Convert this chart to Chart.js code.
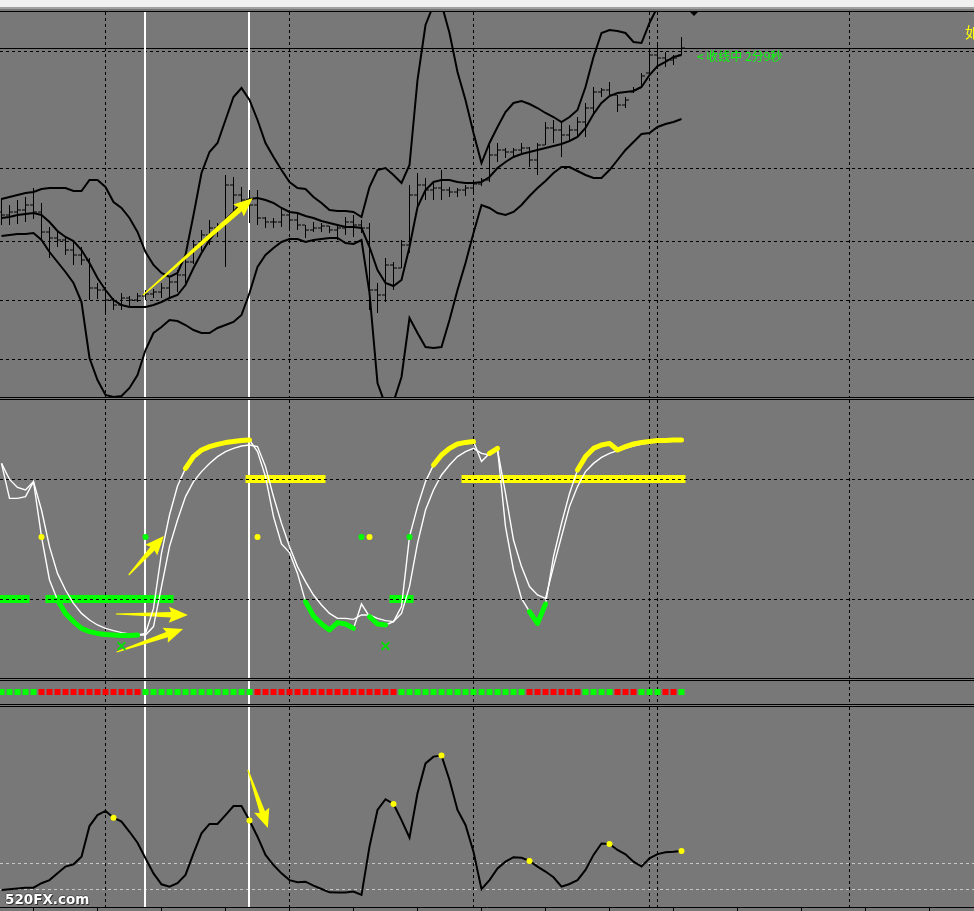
<!DOCTYPE html>
<html><head><meta charset="utf-8">
<script src="https://cdn.jsdelivr.net/npm/chart.js@4.4.1/dist/chart.umd.min.js"></script>
<style>
html,body{margin:0;padding:0;background:#787878;overflow:hidden;}
#wrap{position:relative;width:974px;height:911px;background:#787878;overflow:hidden;}
canvas{position:absolute;left:0;}
.hl{position:absolute;left:0;width:974px;height:1px;background:#000;z-index:3;}
.txt{position:absolute;white-space:nowrap;z-index:4;}
</style></head><body>
<div id="wrap">
  <div style="position:absolute;left:0;top:0;width:974px;height:7px;background:#f0f0f0"></div>
  <div style="position:absolute;left:0;top:7px;width:974px;height:2px;background:#a0a0a0"></div>
  <div class="hl" style="top:11px"></div>
  <canvas id="c1" width="974" height="385" style="top:12px"></canvas>
  <div class="hl" style="top:397px"></div>
  <div class="hl" style="top:399px"></div>
  <canvas id="c2" width="974" height="278" style="top:400px"></canvas>
  <div class="hl" style="top:678px"></div>
  <div class="hl" style="top:680px"></div>
  <canvas id="c3" width="974" height="23" style="top:681px"></canvas>
  <div class="hl" style="top:704px"></div>
  <div class="hl" style="top:706px"></div>
  <canvas id="c4" width="974" height="204" style="top:707px"></canvas>
  <div style="position:absolute;left:690px;top:12px;width:0;height:0;border-left:4px solid transparent;border-right:4px solid transparent;border-top:4px solid #000;z-index:4"></div>
  <div class="txt" style="left:697px;top:49px;font:12px 'Noto Sans CJK SC',sans-serif;color:#00ff00;line-height:14px">&lt; 收线中 2分9秒</div>
  <div class="txt" style="left:965px;top:24px;font:15px 'Noto Sans CJK SC',sans-serif;color:#ffff00;line-height:16px">如</div>
  <div class="txt" style="left:5px;top:892px;font:bold 13.5px 'DejaVu Sans',sans-serif;color:#fff;line-height:15px;text-shadow:1px 1px 0 #333,-1px 0 0 #555,0 -1px 0 #555">520FX.com</div>
</div>
<script>
// ---------- DATA ----------
// Price panel (arbitrary price units)
const open  = [188,185,188,190,195,188,168,162,160,150,145,140,112,110,100,95,102,100,104,106,108,112,118,125,138,155,165,172,175,215,205,200,195,182,178,178,185,180,175,170,172,174,170,172,178,175,172,110,105,135,132,155,205,215,210,212,210,208,210,212,216,220,245,250,248,250,252,240,255,272,270,265,270,278,292,308,310,305,295,308,312,327,345,342,340,345];
const high  = [202,195,200,203,212,197,173,170,163,158,153,142,117,113,102,107,104,107,110,111,117,123,130,143,160,170,180,177,225,223,213,210,210,183,182,192,187,187,175,178,177,174,175,183,185,180,177,117,142,138,160,215,227,222,218,230,213,212,215,220,222,255,257,252,252,257,253,257,278,280,277,275,283,297,313,312,318,305,303,313,327,352,355,348,345,363];
const low   = [175,175,176,178,181,160,142,153,145,135,135,100,101,86,90,90,92,98,100,102,102,102,108,117,136,149,155,163,133,187,193,177,175,172,172,173,170,170,162,168,168,167,160,165,163,167,90,87,98,110,132,147,193,200,200,200,203,203,204,208,214,218,238,242,242,247,233,225,255,257,243,260,263,263,287,303,303,288,292,307,312,327,333,333,335,345];
const close = [185,188,190,195,188,168,162,160,150,145,140,112,110,100,95,102,100,104,106,108,112,118,125,138,155,165,172,175,215,205,200,195,182,178,178,185,180,175,170,172,174,170,172,178,175,172,110,105,135,132,155,205,215,210,212,210,208,210,212,216,220,245,250,248,250,252,240,255,272,270,265,270,278,292,308,310,305,295,300,310,324,345,342,340,342,352];
const bbUpper  = [201,203,205,207,208,211,212,212,212,209,209,220,220,213,198,192,182,168,148,135,127,123,127,145,185,227,248,257,280,303,312,300,280,257,243,230,218,212,211,203,197,190,189,189,188,183,213,230,232,225,217,235,320,375,395,396,367,328,300,267,237,257,273,288,297,299,296,292,287,283,278,283,290,313,343,367,370,369,367,358,357,377,393,405,412,418];
const bbMiddle = [182,183,185,186,187,185,178,169,163,159,150,137,122,110,100,95,93,93,93,95,98,102,105,115,132,147,160,170,180,188,197,201,202,200,197,192,188,187,184,182,179,177,175,173,173,172,153,130,117,114,120,153,193,210,218,220,220,218,217,217,218,223,232,238,243,246,248,250,252,254,256,259,263,272,286,297,304,307,308,309,313,325,334,338,343,345];
const bbLower  = [164,165,166,166,167,160,148,138,128,117,98,42,20,5,3,4,12,25,50,67,73,80,79,75,70,67,67,72,75,78,85,107,133,145,152,158,161,161,158,160,161,162,162,157,156,160,107,17,-5,-2,23,82,67,53,52,53,80,110,137,167,195,192,187,185,188,195,204,212,219,227,233,233,229,225,222,222,230,240,250,258,266,267,273,276,278,281];
const priceGridLevels = [349,232,159,100,41];
const lastPrice = 352;

// Stochastic panel (0-100)
const stochMain   = [87.8,70.3,70.3,71.2,78.7,51.2,29.5,19.5,12.8,8.7,5.3,3.7,2.8,2.3,2,1.8,1.8,2,2.8,15.3,43,62,76.5,85.3,91.2,94.5,96.2,97.3,98.2,98.7,99.2,99.5,93.7,81.2,61.2,47.5,43.2,32.8,18.7,11.5,7.5,4.5,8.2,7.5,5.3,17.5,11.2,7.5,7,8.7,16.2,51.2,66.2,78.7,87,92,95.3,97.5,98.3,98.7,88.7,92.8,95.3,56.2,34.5,20.3,13.7,7.8,17.5,41.2,57.8,72.8,84.5,91.2,95.3,97,97.8,94.5,96.2,97.5,98.3,98.8,99.2,99.3,99.5,99.5];
const stochSignal = [87.8,79.8,75.8,74.5,78.7,64.5,46.2,32.8,24.5,17.8,12.8,9.5,7,5.3,4.2,3.2,2.5,2,2,6.2,26.2,46.2,59.5,71.2,78.7,83.7,87.8,91.2,93.7,95.3,96.5,97,96.2,86.2,71.2,57.8,46.2,36.2,28.7,22,17,12.8,10.3,10.3,9.8,12,12,10.3,9.2,8.7,12.8,26.2,47.8,64.5,74.5,82,87,91.2,93.7,95.3,92.8,92,94.5,72.8,49.5,36.2,26.2,22,20.3,36.2,51.2,66.2,76.2,83.7,87.8,90.8,92.8,94.2,95.3,96.5,97.3,98.2,98.7,99,99.2,99.3];
const oversoldRuns   = [[7,17],[38,44],[46,48],[66,68]];
const overboughtRuns = [[23,31],[54,59],[61,62],[72,85]];
const mark80Runs = [[31,40],[58,85]];
const mark20Runs = [[0,3],[6,21],[49,51]];
const stochLevels = [80,20];
const midDotsYellow = [5,32,46];
const midDotsGreen  = [18,45,51];
const midDotLevel = 51;
const extremeX = [15,48];
const extremeXLevel = -3.5;

// Signal strip (1 = green, -1 = red)
const trendSignal = [1,1,1,1,1,-1,-1,-1,-1,-1,-1,-1,-1,-1,-1,-1,-1,-1,1,1,1,1,1,1,1,1,1,1,1,1,1,1,-1,-1,-1,-1,-1,-1,-1,-1,-1,-1,-1,-1,-1,-1,-1,-1,-1,-1,1,1,1,1,1,1,1,1,1,1,1,1,1,1,1,1,-1,-1,-1,-1,-1,-1,-1,1,1,1,1,-1,-1,-1,1,1,1,-1,-1,1];

// Lower oscillator panel
const lowerOsc = [0,0.3,0.6,0.9,0.9,2.6,3.8,6.4,9,9.9,12.8,24.6,28.8,30.4,27.8,26.3,22.4,18.2,12.2,6.4,2.2,1.3,2.6,5.8,14.1,21.8,25.4,25.4,28.8,32.3,32.3,26.7,20.5,13.5,9.6,6.4,3.8,3,3.2,1.7,0.4,-0.9,-1,-1,-0.6,-1.9,16.7,30.8,34.9,33.1,26.9,20.1,37.2,48.7,51.3,51.7,42.3,30.8,25,14.7,0.3,3.8,8.3,10.9,12.6,12.4,11.2,9,7.1,4.9,1.3,2.3,3.8,7.7,13.5,17.9,17.7,15.4,13.7,10.9,9,12.2,13.8,14.5,14.7,15];
const lowerOscDots = [14,31,49,55,66,76,85];
const lowerLevels = [0,10];

// Time grid / ticks / vertical line objects (bar numbers)
const timeGridBars = [13,36,59,81,82,106];
const timeTickBars = [4,12,20,28,36,44,52,60,68,76,84,92,100,108,116];
const vLineBars = [18,31];

// Annotation arrows [bar, value]
const priceArrows = [{from:[17.7,105], to:[31.4,202]}];
const stochArrows = [{from:[15.9,32], to:[20.3,51.5]}, {from:[14.3,12.5], to:[23.3,12]}, {from:[14.4,-6.5], to:[22.7,5]}];
const lowerArrows = [{from:[30.8,46.2], to:[33.3,23.8]}];

// ---------- BUILD ----------
const bars = close.map((_, i) => i);
const X_MIN = -1.5/8, X_MAX = X_MIN + 974/8;
const pts = arr => arr.map((v, i) => ({x: i, y: v}));
const runPts = (arr, runs) => arr.map((v, i) => ({x: i, y: runs.some(r => i >= r[0] && i <= r[1]) ? v : null}));
const levelPts = (runs, lvl) => { const out = []; runs.forEach(r => { out.push({x: r[0]-0.5, y: lvl}, {x: r[1]+0.5, y: lvl}, {x: r[1]+0.6, y: null}); }); return out; };

function baseOpts(yMin, yMax) {
  return {
    responsive: false, animation: false, devicePixelRatio: 1, events: [],
    layout: {padding: 0, autoPadding: false},
    plugins: {legend: {display: false}, tooltip: {enabled: false}},
    scales: {
      x: {type: 'linear', min: X_MIN, max: X_MAX, display: false, offset: false, grid: {offset: false}},
      y: {type: 'linear', min: yMin, max: yMax, display: false}
    }
  };
}

function drawArrow(ctx, x0, y0, x1, y1) {
  const dx = x1-x0, dy = y1-y0, L = Math.hypot(dx, dy);
  const ux = dx/L, uy = dy/L, nx = -uy, ny = ux;
  const hl = Math.min(17, L*0.4), hw = 8, sw = 2.8, tw = 0.6;
  const bx = x1-ux*hl, by = y1-uy*hl;
  ctx.beginPath();
  ctx.moveTo(x0+nx*tw, y0+ny*tw);
  ctx.lineTo(bx+nx*sw, by+ny*sw);
  ctx.lineTo(bx+nx*hw - ux*2, by+ny*hw - uy*2);
  ctx.lineTo(x1, y1);
  ctx.lineTo(bx-nx*hw - ux*2, by-ny*hw - uy*2);
  ctx.lineTo(bx-nx*sw, by-ny*sw);
  ctx.lineTo(x0-nx*tw, y0-ny*tw);
  ctx.closePath();
  ctx.fillStyle = '#ffff00';
  ctx.fill();
}

function decor(opt) {
  const paintArrows = (chart) => {
    const {ctx} = chart; const x = chart.scales.x, y = chart.scales.y;
    (opt.arrows || []).forEach(ar => {
      drawArrow(ctx, x.getPixelForValue(ar.from[0]), y.getPixelForValue(ar.from[1]),
                     x.getPixelForValue(ar.to[0]), y.getPixelForValue(ar.to[1]));
    });
  };
  return {
    id: 'decor',
    beforeDatasetsDraw(chart) {
      const {ctx, chartArea: a} = chart; const x = chart.scales.x, y = chart.scales.y;
      ctx.save();
      ctx.beginPath(); ctx.rect(a.left, a.top, a.right-a.left, a.bottom-a.top); ctx.clip();
      ctx.lineWidth = 1; ctx.strokeStyle = '#000'; ctx.setLineDash([3,3]);
      ctx.beginPath();
      timeGridBars.forEach(b => { const p = Math.floor(x.getPixelForValue(b))+0.5; ctx.moveTo(p, a.top); ctx.lineTo(p, a.bottom); });
      (opt.hGrid || []).forEach(v => { const p = Math.floor(y.getPixelForValue(v))+0.5; ctx.moveTo(a.left, p); ctx.lineTo(a.right, p); });
      ctx.stroke();
      if (opt.lightLevels) {
        ctx.strokeStyle = '#c8c8c8'; ctx.beginPath();
        opt.lightLevels.forEach(v => { const p = Math.floor(y.getPixelForValue(v))+0.5; ctx.moveTo(a.left, p); ctx.lineTo(a.right, p); });
        ctx.stroke();
      }
      ctx.setLineDash([]);
      if (opt.priceLine != null) {
        ctx.strokeStyle = '#000'; ctx.lineWidth = 1; ctx.beginPath();
        const p = Math.floor(y.getPixelForValue(opt.priceLine))+0.5; ctx.moveTo(a.left, p); ctx.lineTo(a.right, p); ctx.stroke();
      }
      ctx.strokeStyle = '#fff'; ctx.lineWidth = 2; ctx.beginPath();
      vLineBars.forEach(b => { const p = Math.floor(x.getPixelForValue(b)); ctx.moveTo(p, a.top); ctx.lineTo(p, a.bottom); });
      ctx.stroke();
      if (opt.arrowsBelow) paintArrows(chart);
      ctx.restore();
    },
    afterDatasetsDraw(chart) {
      const {ctx, chartArea: a} = chart; const y = chart.scales.y;
      ctx.save();
      ctx.beginPath(); ctx.rect(a.left, a.top, a.right-a.left, a.bottom-a.top); ctx.clip();
      if (opt.levels) {
        ctx.lineWidth = 1; ctx.strokeStyle = '#000'; ctx.setLineDash([3,3]); ctx.beginPath();
        opt.levels.forEach(v => { const p = Math.floor(y.getPixelForValue(v))+0.5; ctx.moveTo(a.left, p); ctx.lineTo(a.right, p); });
        ctx.stroke(); ctx.setLineDash([]);
      }
      if (!opt.arrowsBelow) paintArrows(chart);
      ctx.restore();
    }
  };
}

const lineDs = (data, color, width, order) => ({type: 'line', data, borderColor: color, borderWidth: width, pointRadius: 0, tension: 0, order, spanGaps: false});
const dotDs = (data, color, r, order) => ({type: 'line', data, showLine: false, pointRadius: r, pointBackgroundColor: color, pointBorderWidth: 0, borderColor: color, order});

// Panel 1: price bars + Bollinger bands
new Chart(document.getElementById('c1'), {
  type: 'line',
  data: {datasets: [
    lineDs(pts(bbUpper), '#000', 2, 1),
    lineDs(pts(bbMiddle), '#000', 2, 1),
    lineDs(pts(bbLower), '#000', 2, 1),
    {type: 'bar', data: bars.map(i => ({x: i, y: [low[i], high[i]]})), backgroundColor: '#000', barThickness: 1, inflateAmount: 0, borderWidth: 0, order: 3},
    {type: 'line', data: bars.map(i => ({x: i-0.25, y: open[i]})), showLine: false, pointStyle: 'line', pointRadius: 1.5, pointBorderWidth: 1, pointBorderColor: '#000', borderColor: '#000', order: 2},
    {type: 'line', data: bars.map(i => ({x: i+0.25, y: close[i]})), showLine: false, pointStyle: 'line', pointRadius: 1.5, pointBorderWidth: 1, pointBorderColor: '#000', borderColor: '#000', order: 2}
  ]},
  options: baseOpts(3, 388),
  plugins: [decor({hGrid: priceGridLevels, priceLine: lastPrice, arrows: priceArrows})]
});

// Panel 2: stochastic
new Chart(document.getElementById('c2'), {
  type: 'line',
  data: {datasets: [
    lineDs(levelPts(mark80Runs, 80), '#ffff00', 8, 10),
    lineDs(levelPts(mark20Runs, 20), '#00ff00', 8, 10),
    lineDs(pts(stochSignal), '#ffffff', 1.4, 8),
    lineDs(pts(stochMain), '#ffffff', 1.4, 8),
    Object.assign(lineDs(runPts(stochMain, oversoldRuns), '#00ff00', 5, 6), {borderCapStyle: 'round', borderJoinStyle: 'round'}),
    Object.assign(lineDs(runPts(stochMain, overboughtRuns), '#ffff00', 5, 6), {borderCapStyle: 'round', borderJoinStyle: 'round'}),
    dotDs(midDotsYellow.map(b => ({x: b, y: midDotLevel})), '#ffff00', 3, 4),
    dotDs(midDotsGreen.map(b => ({x: b, y: midDotLevel})), '#00ff00', 3, 4),
    {type: 'line', data: extremeX.map(b => ({x: b, y: extremeXLevel})), showLine: false, pointStyle: 'crossRot', pointRadius: 5.5, pointBorderWidth: 2, pointBorderColor: '#00e000', borderColor: '#00e000', order: 3}
  ]},
  options: baseOpts(-19.5, 119.5),
  plugins: [decor({levels: stochLevels, arrows: stochArrows, arrowsBelow: true})]
});

// Panel 3: signal strip
new Chart(document.getElementById('c3'), {
  type: 'line',
  data: {datasets: [
    {type: 'line', data: bars.map(i => ({x: i, y: 1})), showLine: false, pointStyle: 'rect', pointRadius: 4.25, pointBorderWidth: 0,
     pointBackgroundColor: trendSignal.map(s => s > 0 ? '#00ff00' : '#ff0000'), borderColor: '#000'}
  ]},
  options: baseOpts(0, 23/12),
  plugins: [decor({})]
});

// Panel 4: lower oscillator with time axis ticks
const opt4 = baseOpts(-6.5385, 70.3846);
opt4.scales.x = {
  type: 'linear', min: X_MIN, max: X_MAX, display: true, position: 'bottom', offset: false,
  grid: {drawOnChartArea: false, drawTicks: true, tickLength: 4, color: '#000', lineWidth: 1, offset: false},
  border: {display: true, color: '#000', width: 1},
  ticks: {display: false},
  afterBuildTicks: axis => { axis.ticks = timeTickBars.map(v => ({value: v})); }
};
new Chart(document.getElementById('c4'), {
  type: 'line',
  data: {datasets: [
    lineDs(pts(lowerOsc), '#000', 2, 2),
    dotDs(lowerOscDots.map(b => ({x: b, y: lowerOsc[b]})), '#ffff00', 3, 1)
  ]},
  options: opt4,
  plugins: [decor({lightLevels: lowerLevels, arrows: lowerArrows})]
});
</script>
</body></html>
